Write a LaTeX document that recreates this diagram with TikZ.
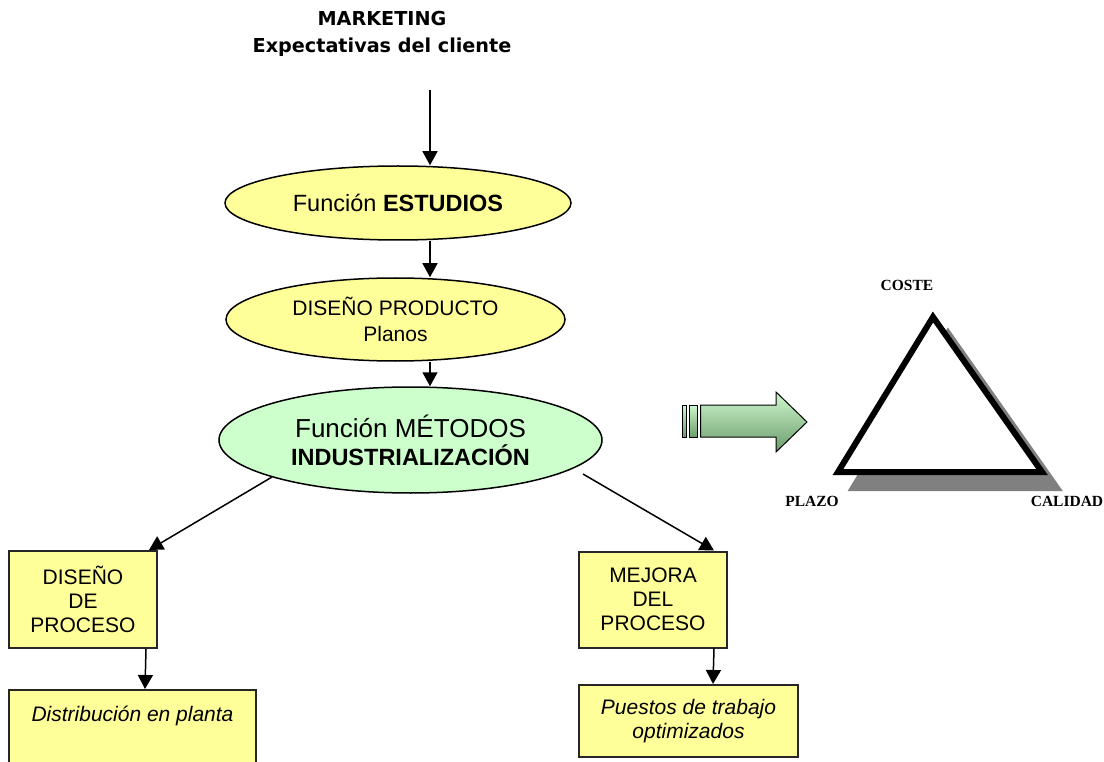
\documentclass[tikz,border=0pt]{standalone}
\usepackage{fontspec}
\setmainfont{Liberation Sans}
\newfontfamily\headfont{DejaVu Sans}
\newfontfamily\tipfont{Liberation Serif}
\usetikzlibrary{shapes.geometric,arrows.meta,calc}
\definecolor{paleyellow}{HTML}{FFFF99}
\definecolor{palegreen}{HTML}{CCFFCC}
\definecolor{arrowtop}{HTML}{CFF7CF}
\definecolor{arrowbot}{HTML}{6B9B6B}
\definecolor{shadowgray}{HTML}{808080}

\tikzset{
  conn/.style={draw=black, line width=1.5pt, -{Triangle[length=14pt,width=15pt]}},
  oval/.style={ellipse, draw=black, line width=1.5pt, fill=paleyellow, inner sep=0pt, align=center},
  box/.style={rectangle, draw=black!85, line width=2pt, fill=paleyellow, inner sep=0pt, align=center},
  corner/.style={font=\tipfont\bfseries\fontsize{15.5}{18}\selectfont},
  greenpart/.style={draw=black, line width=1pt, line join=miter, top color=arrowtop, bottom color=arrowbot},
}

\begin{document}
\begin{tikzpicture}[x=1pt,y=-1pt]
\useasboundingbox (0,0) rectangle (1104,762);
\fill[white] (0,0) rectangle (1104,762);

% heading
\node[font=\headfont\bfseries\fontsize{19.2}{27}\selectfont, align=center] (mkt) at (382,33.5)
  {MARKETING\\Expectativas del cliente};

% main chain
\node[oval, minimum width=346, minimum height=74, font=\fontsize{23.5}{28}\selectfont] (e1) at (398,203)
  {Función \textbf{ESTUDIOS}};
\node[oval, minimum width=339, minimum height=83, font=\fontsize{21}{26}\selectfont] (e2) at (395.5,319.5)
  {DISEÑO PRODUCTO\\Planos};
\node[oval, fill=palegreen, minimum width=383, minimum height=106, font=\fontsize{26}{28}\selectfont] (e3) at (410.5,440)
  {Función MÉTODOS\\\fontsize{23.5}{28}\selectfont\bfseries INDUSTRIALIZACIÓN};

% process boxes
\node[box, minimum width=148, minimum height=97, font=\fontsize{21}{24}\selectfont] (b1) at (83,599.5)
  {DISEÑO\\DE\\PROCESO};
\node[box, anchor=north, minimum width=247, text height=31pt, text depth=55pt,
      font=\itshape\fontsize{21}{24}\selectfont] (b2) at (132.5,689) {Distribución en planta};
\node[box, minimum width=148, minimum height=96, font=\fontsize{21}{24}\selectfont] (b3) at (653,599.5)
  {MEJORA\\DEL\\PROCESO};
\node[box, minimum width=219, minimum height=72, font=\itshape\fontsize{21}{24}\selectfont] (b4) at (688.5,721)
  {Puestos de trabajo\\optimizados};

% connectors
\coordinate (ax) at (430,0);
\coordinate (start) at (430,90);
\coordinate (r0) at (583,474);
\draw[conn] (start) -- (e1.north -| ax);
\draw[conn] (e1.south -| ax) -- (e2.north -| ax);
\draw[conn] (e2.south -| ax) -- (e3.north -| ax);
\draw[conn] (e3.195) -- ($(b1.north east)+(-9,0)$);
\draw[conn] (r0) -- ($(b3.north east)+(-14,0)$);
\draw[conn] ($(b1.south)+(63,0)$) -- ($(b2.north west)+(137,0)$);
\draw[conn] ($(b3.south)+(61,0)$) -- ($(b4.north west)+(135,0)$);

% block arrow
\draw[greenpart] (682,405) rectangle (686.5,437);
\draw[greenpart] (689.5,405) rectangle (697,437);
\draw[greenpart]
  (700.5,405) -- (776,405) -- (776,392) -- (807,422) -- (776,452) -- (776,437) -- (700.5,437) -- cycle;

% triangle with shadow
\draw[shadowgray, fill=shadowgray, line width=6pt, line join=miter] (948,333) -- (853,488) -- (1057,488) -- cycle;
\draw[black, fill=white, line width=6pt, line join=miter] (933,317) -- (838,472) -- (1042,472) -- cycle;

\node[corner] (coste) at (907,285) {COSTE};
\node[corner] (plazo) at (812,501) {PLAZO};
\node[corner] (calidad) at (1067,501) {CALIDAD};
\end{tikzpicture}
\end{document}
